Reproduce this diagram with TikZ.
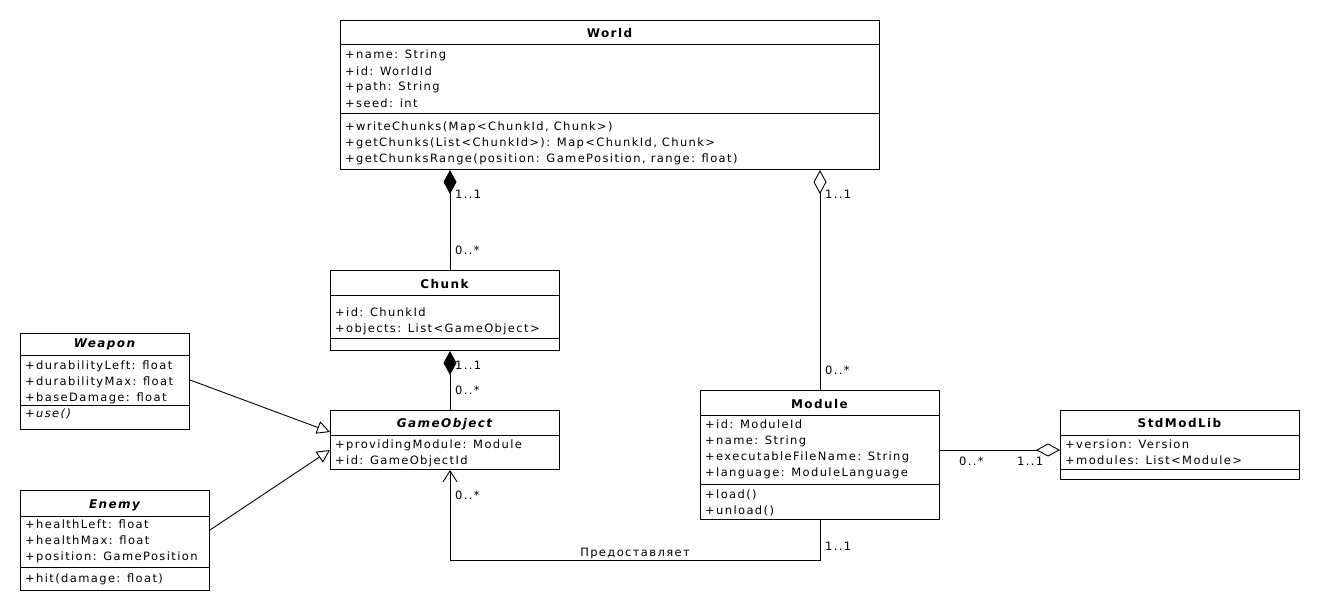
\documentclass[tikz,border=0pt]{standalone}
\usepackage{fontspec}
\setmainfont{DejaVu Sans}
\newfontfamily\umlfont[LetterSpace=12]{DejaVu Sans}
\usetikzlibrary{arrows.meta}
\tikzset{
  box/.style={draw, line width=1pt, inner sep=0pt, anchor=north west},
  txt/.style={anchor=base west, inner sep=0pt, font=\fontsize{11.5}{16}\umlfont},
  ttl/.style={anchor=base, inner sep=0pt, font=\fontsize{12}{16}\umlfont\bfseries},
  mult/.style={inner sep=0pt, anchor=base west, font=\fontsize{11.5}{16}\umlfont},
  sep/.style={line width=1pt},
  conn/.style={line width=0.9pt},
  compo/.style={{Diamond[length=24pt,width=13pt,fill=black]}-},
  aggr/.style={{Diamond[open,length=24pt,width=13pt,fill=white]}-},
  gen/.style={-{Triangle[open,length=13pt,width=13pt,fill=white]}},
  nav/.style={-{Straight Barb[length=11pt,width=14pt,line width=0.9pt]}},
}
% \umllines{prefix}{x}{first baseline}{items}
\newcommand\umllines[4]{%
  \foreach \t [count=\i] in {#4}{%
    \node[txt] (#1\i) at (#2,{#3+16*(\i-1)}) {\t};}}
\begin{document}
\begin{tikzpicture}[x=1pt,y=-1pt]
\useasboundingbox (0,0) rectangle (1320,610);
% World
\node[box, minimum width=539pt, minimum height=149pt] (world) at (340,20) {};
\draw[sep] (340,45) -- (879,45) (340,113) -- (879,113);
\node[ttl] (worldt) at (609.5,38) {World};
\umllines{worlda}{345}{59}{+name: String,+id: WorldId,+path: String,+seed: int}
\umllines{worldm}{345}{130}{{+writeChunks(Map<ChunkId, Chunk>)},{+getChunks(List<ChunkId>): Map<ChunkId, Chunk>},{+getChunksRange(position: GamePosition, range: float)}}
% Chunk
\node[box, minimum width=229pt, minimum height=80pt] (chunk) at (330,270) {};
\draw[sep] (330,295) -- (559,295) (330,338) -- (559,338);
\node[ttl] (chunkt) at (444.5,288) {Chunk};
\umllines{chunka}{335}{316}{+id: ChunkId,+objects: List<GameObject>}
% Weapon
\node[box, minimum width=169pt, minimum height=96pt] (weapon) at (20,333) {};
\draw[sep] (20,355) -- (189,355) (20,405) -- (189,405);
\node[ttl] (weapont) at (104.5,347) {\itshape Weapon};
\umllines{weapona}{25}{369}{+durabilityLeft: float,+durabilityMax: float,+baseDamage: float}
\node[txt] (weaponm) at (25,417) {\itshape +use()};
% GameObject
\node[box, minimum width=229pt, minimum height=59pt] (gobj) at (330,410) {};
\draw[sep] (330,435) -- (559,435);
\node[ttl] (gobjt) at (444.5,427) {\itshape GameObject};
\umllines{gobja}{335}{448}{+providingModule: Module,+id: GameObjectId}
% Enemy
\node[box, minimum width=189pt, minimum height=100pt] (enemy) at (20,490) {};
\draw[sep] (20,516) -- (209,516) (20,567) -- (209,567);
\node[ttl] (enemyt) at (114.5,508) {\itshape Enemy};
\umllines{enemya}{25}{528}{+healthLeft: float,+healthMax: float,+position: GamePosition}
\node[txt] (enemym) at (25,582) {+hit(damage: float)};
% Module
\node[box, minimum width=239pt, minimum height=129pt] (module) at (700,390) {};
\draw[sep] (700,415) -- (939,415) (700,484) -- (939,484);
\node[ttl] (modulet) at (819.5,408) {Module};
\umllines{modulea}{705}{428}{+id: ModuleId,+name: String,+executableFileName: String,+language: ModuleLanguage}
\umllines{modulem}{705}{498}{+load(),+unload()}
% StdModLib
\node[box, minimum width=239pt, minimum height=69pt] (stdlib) at (1060,410) {};
\draw[sep] (1060,435) -- (1299,435) (1060,469) -- (1299,469);
\node[ttl] (stdlibt) at (1179.5,427) {StdModLib};
\umllines{stdliba}{1065}{448}{+version: Version,+modules: List<Module>}
% connectors
\coordinate (cx) at (450,0);
\coordinate (ylow) at (0,560);
\coordinate (wpt) at (0,380);
\coordinate (wend) at (0,432);
\coordinate (ept) at (0,530);
\coordinate (eend) at (0,450);
\coordinate (my) at (0,450);
\draw[conn, compo] (world.south -| cx) -- (chunk.north -| cx);
\draw[conn, aggr] (world.south -| module.north) -- (module.north);
\draw[conn, compo] (chunk.south -| cx) -- (gobj.north -| cx);
\draw[conn, gen] (weapon.east |- wpt) -- (gobj.west |- wend);
\draw[conn, gen] (enemy.east |- ept) -- (gobj.west |- eend);
\draw[conn, aggr] (stdlib.west |- my) -- (module.east |- my);
\draw[conn, nav] (module.south) -- (module.south |- ylow) -- (cx |- ylow) -- (gobj.south -| cx);
% multiplicities
\node[mult] (m1) at (455,198) {1..1};
\node[mult] (m2) at (455,254) {0..*};
\node[mult] (m3) at (825,198) {1..1};
\node[mult] (m4) at (825,374) {0..*};
\node[mult] (m5) at (455,369) {1..1};
\node[mult] (m6) at (455,394) {0..*};
\node[mult] (m7) at (455,499) {0..*};
\node[mult] (m8) at (825,550) {1..1};
\node[mult] (m9) at (959,465) {0..*};
\node[mult] (m10) at (1017,465) {1..1};
\node[mult, anchor=base] (lab) at (635,556) {Предоставляет};
\end{tikzpicture}
\end{document}
